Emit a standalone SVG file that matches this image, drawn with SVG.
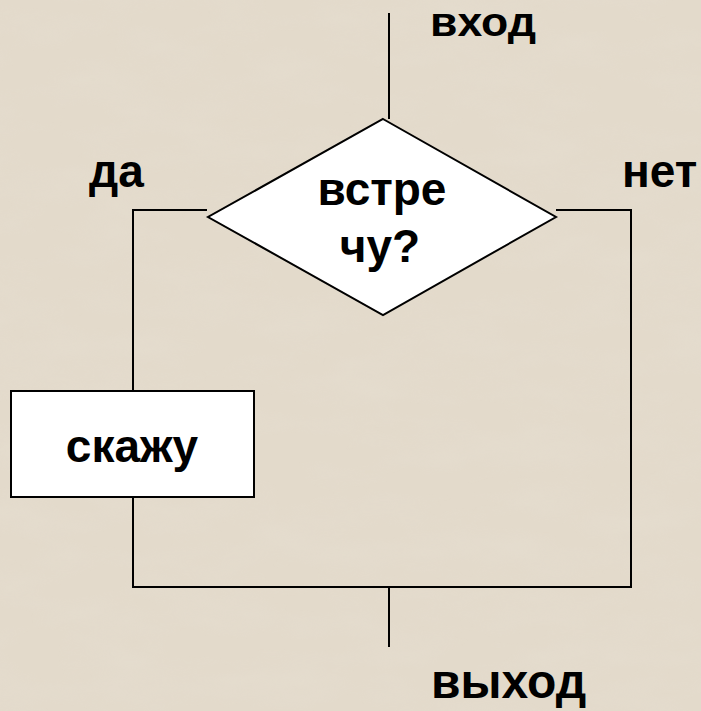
<svg xmlns="http://www.w3.org/2000/svg" width="701" height="711" viewBox="0 0 701 711">
  <defs>
    <filter id="marble" x="0" y="0" width="100%" height="100%">
      <feTurbulence type="fractalNoise" baseFrequency="0.012 0.03" numOctaves="3" seed="7" result="n"/>
      <feColorMatrix in="n" type="matrix" values="0 0 0 0 0.80  0 0 0 0 0.75  0 0 0 0 0.66  -1.2 0 0 0 0.72" result="c"/>
      <feComposite in="c" in2="SourceGraphic" operator="in"/>
    </filter>
    <style>
      .ln { stroke: #000; stroke-width: 2; fill: none; }
      .shape { fill: #fff; stroke: #000; stroke-width: 2; }
      .t { font-family: "Liberation Sans", Arial, sans-serif; font-weight: bold; font-size: 46px; fill: #000; }
      .c { text-anchor: middle; }
    </style>
  </defs>
  <g id="background">
    <rect x="0" y="0" width="701" height="711" fill="#e3dacb"/>
    <rect x="0" y="0" width="701" height="711" fill="#e3dacb" filter="url(#marble)" opacity="0.55"/>
  </g>
  <g id="connectors">
    <line class="ln" x1="389" y1="13" x2="389" y2="119"/>
    <polyline class="ln" points="207,210 133,210 133,391"/>
    <polyline class="ln" points="556,210 631,210 631,587 133,587 133,497"/>
    <line class="ln" x1="389" y1="587" x2="389" y2="647"/>
  </g>
  <g id="decision">
    <polygon class="shape" points="383,119 556,217 383,315 208,217"/>
    <text class="t c" x="382" y="205">встре</text>
    <text class="t c" x="380" y="262">чу?</text>
  </g>
  <g id="action">
    <rect class="shape" x="11" y="391" width="243" height="106"/>
    <text class="t c" x="132" y="462">скажу</text>
  </g>
  <g id="labels">
    <text class="t" x="430" y="36" style="font-size:40px" textLength="106" lengthAdjust="spacingAndGlyphs">вход</text>
    <text class="t" x="89" y="187">да</text>
    <text class="t" x="622" y="187">нет</text>
    <text class="t" x="431" y="698" style="font-size:48px">выход</text>
  </g>
</svg>
